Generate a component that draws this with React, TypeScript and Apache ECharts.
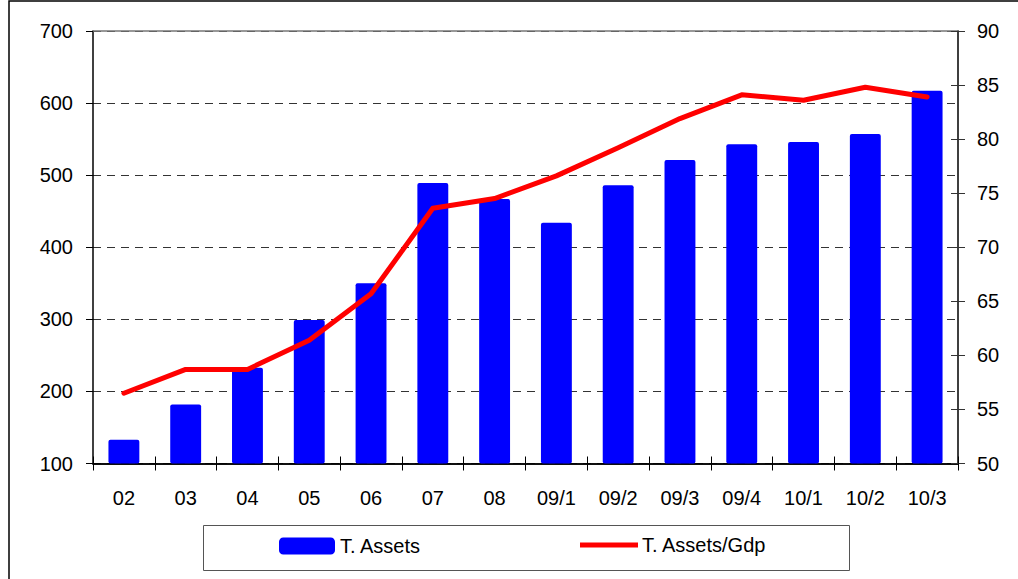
import React, { useEffect, useRef } from "react";
import * as echarts from "echarts";

const categories = ["02", "03", "04", "05", "06", "07", "08", "09/1", "09/2", "09/3", "09/4", "10/1", "10/2", "10/3"];
const totalAssets = [133, 182, 233, 299, 350, 489, 467, 434, 486, 521, 543, 546, 557, 617];
const assetsToGdp = [56.5, 58.7, 58.7, 61.4, 65.7, 73.6, 74.5, 76.6, 79.2, 81.9, 84.1, 83.6, 84.8, 83.9];

const FONT = "'Liberation Sans', Arial, sans-serif";
const LINE_ICON = "path://M0,0 M58,17 M0,6 L58,6 L58,11 L0,11 Z";

export default function App() {
  const ref = useRef<HTMLDivElement>(null);
  useEffect(() => {
    if (!ref.current) return;
    const chart = echarts.init(ref.current, undefined, { renderer: "svg" });
    const labelStyle = { color: "#000", fontSize: 20, fontFamily: FONT };
    chart.setOption({
      animation: false,
      backgroundColor: "#fff",
      grid: { left: 93, right: 60, top: 31, bottom: 115.5, containLabel: false },
      graphic: [
        { type: "rect", shape: { x: 9, y: 1, width: 1030, height: 620 }, style: { fill: "none", stroke: "#000", lineWidth: 1.5 }, silent: true, z: 100 },
        { type: "rect", shape: { x: 203.5, y: 525.5, width: 646, height: 45 }, style: { fill: "none", stroke: "#555", lineWidth: 1 }, silent: true, z: 100 },
      ],
      legend: [
        {
          data: [{ name: "T. Assets", icon: "roundRect" }],
          left: 279,
          top: 536,
          padding: 0,
          itemWidth: 56,
          itemHeight: 17,
          textStyle: { ...labelStyle },
        },
        {
          data: [{ name: "T. Assets/Gdp", icon: LINE_ICON }],
          left: 580,
          top: 535,
          padding: 0,
          itemWidth: 58,
          itemHeight: 17,
          textStyle: { ...labelStyle, padding: [0, 0, 0, -1] },
        },
      ],
      xAxis: [
        {
          type: "category",
          data: categories,
          position: "bottom",
          boundaryGap: true,
          axisLine: { lineStyle: { color: "#000", width: 1.5 } },
          axisTick: { show: true, inside: false, length: 7, lineStyle: { color: "#000" } },
          axisLabel: { ...labelStyle, margin: 24 },
        },
        {
          type: "category",
          data: categories,
          position: "bottom",
          boundaryGap: true,
          axisLine: { show: true, lineStyle: { color: "#000", width: 1.5 } },
          axisTick: { show: true, inside: true, length: 7, lineStyle: { color: "#000" } },
          axisLabel: { show: false },
        },
        {
          type: "category",
          data: categories,
          position: "top",
          axisLine: { show: true, lineStyle: { color: "#777", width: 1.5 } },
          axisTick: { show: false },
          axisLabel: { show: false },
        },
      ],
      yAxis: [
        {
          type: "value",
          position: "left",
          min: 100,
          max: 700,
          interval: 100,
          axisLine: { show: true, lineStyle: { color: "#000", width: 1.5 } },
          axisTick: { show: true, inside: false, length: 7, lineStyle: { color: "#000" } },
          axisLabel: { ...labelStyle, margin: 20 },
          splitLine: { show: true, lineStyle: { color: "#333", type: [8, 6], width: 1 } },
        },
        {
          type: "value",
          position: "right",
          min: 50,
          max: 90,
          interval: 5,
          axisLine: { show: true, lineStyle: { color: "#333", width: 1.5 } },
          axisTick: { show: true, inside: false, length: 7, lineStyle: { color: "#333" } },
          axisLabel: { ...labelStyle, margin: 19 },
          splitLine: { show: false },
        },
        {
          type: "value",
          position: "right",
          min: 50,
          max: 90,
          interval: 5,
          axisLine: { show: true, lineStyle: { color: "#333", width: 1.5 } },
          axisTick: { show: true, inside: true, length: 7, lineStyle: { color: "#333" } },
          axisLabel: { show: false },
          splitLine: { show: false },
        },
      ],
      series: [
        {
          name: "T. Assets",
          type: "bar",
          xAxisIndex: 0,
          yAxisIndex: 0,
          data: totalAssets,
          barWidth: "50%",
          itemStyle: { color: "#0000FF", borderRadius: 2 },
        },
        {
          name: "T. Assets/Gdp",
          type: "line",
          xAxisIndex: 0,
          yAxisIndex: 1,
          data: assetsToGdp,
          symbol: "none",
          lineStyle: { color: "#FF0000", width: 5, cap: "round", join: "round" },
          itemStyle: { color: "#FF0000" },
          z: 5,
        },
      ],
    });
    return () => chart.dispose();
  }, []);
  return (
    <div
      ref={ref}
      style={{ position: "fixed", left: 0, top: 0, width: 1018, height: 579, background: "#fff" }}
    />
  );
}
